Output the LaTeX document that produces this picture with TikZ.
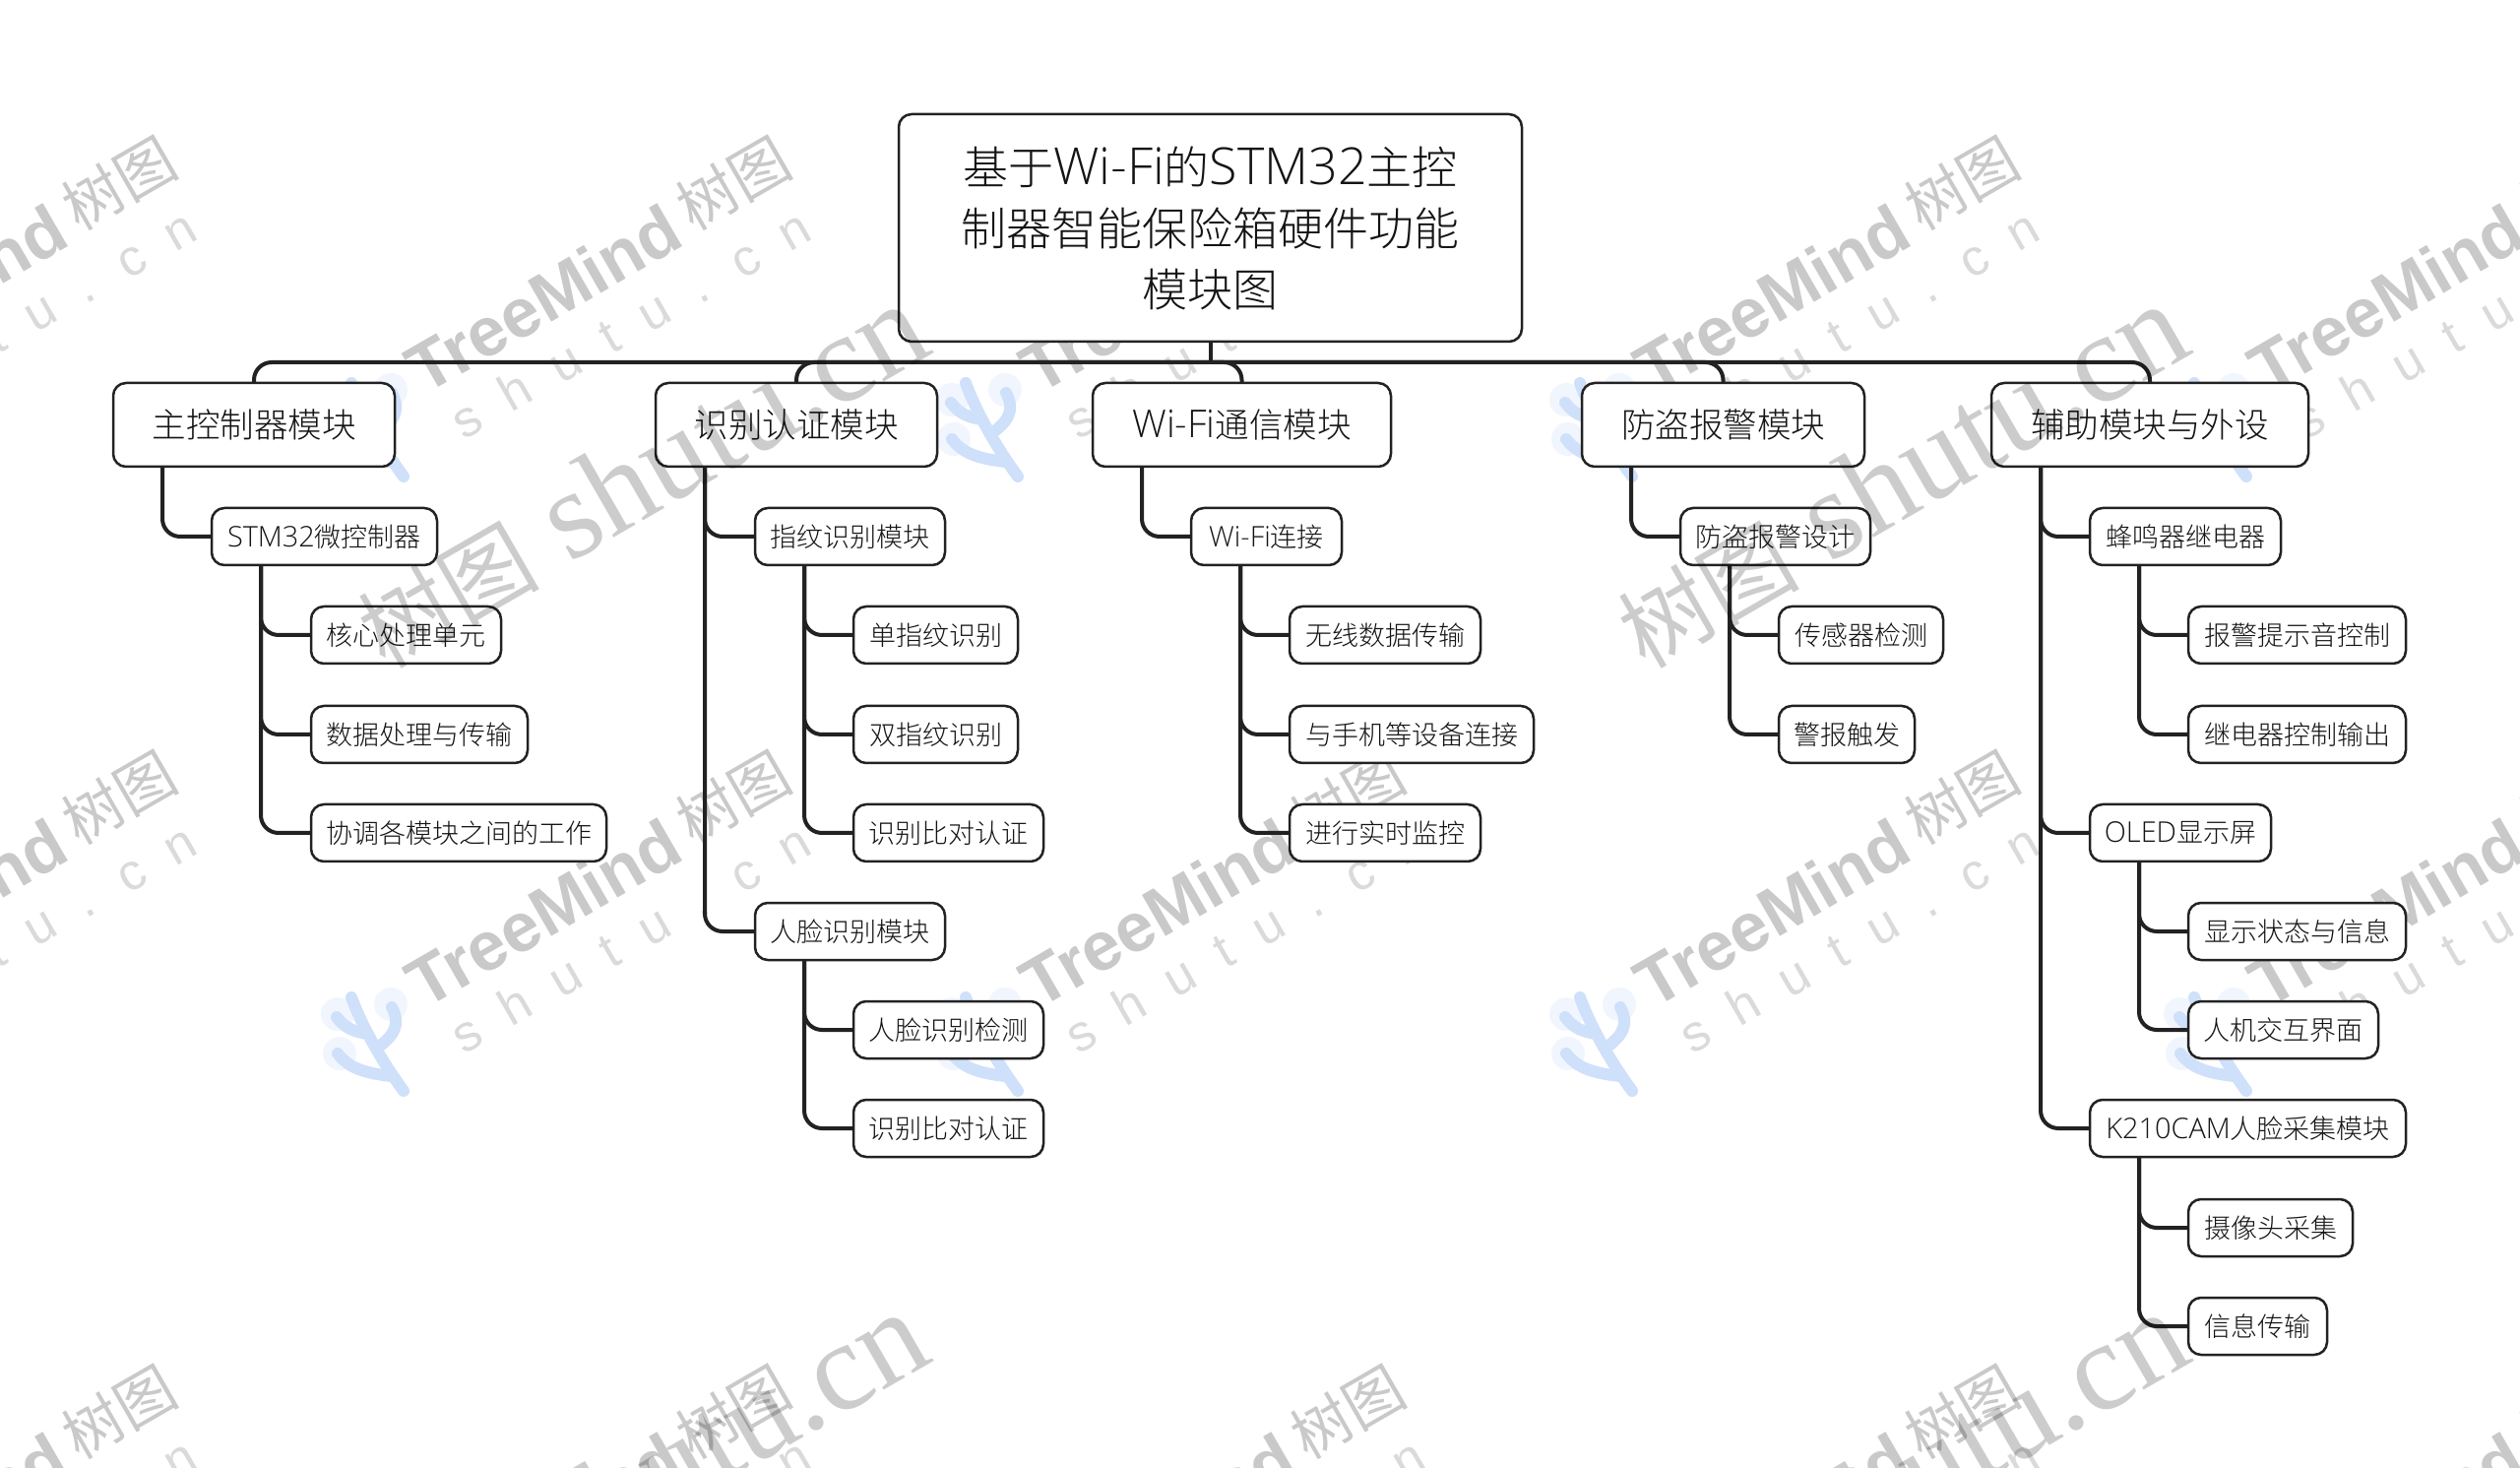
\documentclass[tikz,border=0pt]{standalone}
\usepackage{fontspec}
\setmainfont{Noto Sans CJK SC Light}
\newfontfamily\latf[Scale=1.07]{Open Sans Light}
\newfontfamily\latroot[Scale=1.13]{Open Sans Light}
\newfontfamily\cjkf{Noto Sans CJK SC}
\newfontfamily\wmsans{Liberation Sans}
\newfontfamily\wmserif{Liberation Serif}
\newcommand{\lat}[1]{{\latf #1}}
\newcommand{\latr}[1]{{\latroot #1}}
\definecolor{ink}{HTML}{222222}
\definecolor{wmgray}{HTML}{C9C9C9}
\definecolor{wmlight}{HTML}{DADADA}
\definecolor{cactus}{HTML}{CFE0FB}
\definecolor{halo}{HTML}{F1F6FE}
\tikzset{
  boxbase/.style={draw=ink,fill=white,line width=1.25pt,rounded corners=6.5pt,inner sep=0pt,outer sep=0pt,align=center,text=black!92},
  rootbox/.style={boxbase,font=\fontsize{23}{31}\selectfont},
  lone/.style={boxbase,minimum height=42.5pt,font=\fontsize{17.25}{20}\selectfont},
  ltwo/.style={boxbase,minimum height=29pt,font=\fontsize{13.5}{16}\selectfont},
  conn/.style={draw=ink,line width=2pt,rounded corners=9pt},
  wmtree/.style={anchor=base west,rotate=30,inner sep=0pt,text=wmgray},
  wmshu/.style={anchor=base west,rotate=30,inner sep=0pt,text=wmlight},
  wmbig/.style={anchor=base west,rotate=30,inner sep=0pt,text=black,text opacity=0.2},
  cact/.style={draw=cactus,line width=6pt,line cap=round,line join=round},
}
\newcommand{\bx}[6]{\node[#2,minimum width={(#4-#3)*0.5pt}] (#1) at ({(#3+#4)/2},#5) {#6};}
\newcommand{\link}[2]{\draw[conn] ([xshift=25pt]#1.south west) |- (#2.west);}
\newcommand{\drop}[1]{\draw[conn] (bus) -| (#1.north);}
\begin{document}
\begin{tikzpicture}[x=0.5pt,y=-0.5pt]
\useasboundingbox (0,0) rectangle (2560,1491);
\fill[white] (0,0) rectangle (2560,1491);
\begin{scope}
\clip (0,0) rectangle (2560,1491);
% tiled watermark behind the map
\foreach \tx in {-201,423,1047,1671,2295}{
 \foreach \ty in {394,1018,1642}{
  \begin{scope}[shift={(\tx,\ty)}]
   \fill[halo] (-80,12) circle (17*0.5pt) (-26,2) circle (17*0.5pt) (-78,52) circle (17*0.5pt);
   \draw[cact] (-66,-5) .. controls (-55,25) and (-35,60) .. (-13,90);
   \draw[cact] (-38,45) .. controls (-22,33) and (-16,22) .. (-25,5);
   \draw[cact] (-50,32) .. controls (-62,30) and (-72,27) .. (-81,15);
   \draw[cact] (-26,75) .. controls (-50,72) and (-68,68) .. (-80,52);
  \node[wmtree,font=\wmsans\bfseries\fontsize{35}{35}\selectfont] (tm\tx\ty) at (8,8) {TreeMind};
  \node[wmtree,font=\cjkf\fontsize{30}{30}\selectfont] (tc\tx\ty) at (281,-158) {树图};
  \node[wmshu,font=\wmsans\fontsize{26}{26}\selectfont] (ts\tx\ty) at (48,54) {\spaceskip=15pt s h u t u . c n};
  \end{scope}
 }
}
\end{scope}
% nodes
\node[rootbox,minimum width=316.5pt,minimum height=115.5pt] (root) at (1229.5,231.5) {基于\latr{Wi-Fi}的\latr{STM32}主控\\制器智能保险箱硬件功能\\模块图};
\coordinate (bus) at (1229.5,368);
\bx{a}{lone}{115}{401}{431.5}{主控制器模块}
\bx{b}{lone}{666}{952}{431.5}{识别认证模块}
\bx{c}{lone}{1110}{1413}{431.5}{\latr{Wi-Fi}通信模块}
\bx{d}{lone}{1607}{1894}{431.5}{防盗报警模块}
\bx{e}{lone}{2023}{2345}{431.5}{辅助模块与外设}
% level 2 and 3
\bx{a1}{ltwo}{215}{444}{545}{\lat{STM32}微控制器}
\bx{a11}{ltwo}{316}{509}{645}{核心处理单元}
\bx{a12}{ltwo}{316}{536}{746}{数据处理与传输}
\bx{a13}{ltwo}{316}{616}{846}{协调各模块之间的工作}
\bx{b1}{ltwo}{767}{960}{545}{指纹识别模块}
\bx{b11}{ltwo}{867}{1034}{645}{单指纹识别}
\bx{b12}{ltwo}{867}{1034}{746}{双指纹识别}
\bx{b13}{ltwo}{867}{1060}{846}{识别比对认证}
\bx{b2}{ltwo}{767}{960}{946}{人脸识别模块}
\bx{b21}{ltwo}{867}{1060}{1046}{人脸识别检测}
\bx{b22}{ltwo}{867}{1060}{1146}{识别比对认证}
\bx{c1}{ltwo}{1210}{1363}{545}{\lat{Wi-Fi}连接}
\bx{c11}{ltwo}{1310}{1504}{645}{无线数据传输}
\bx{c12}{ltwo}{1310}{1558}{746}{与手机等设备连接}
\bx{c13}{ltwo}{1310}{1504}{846}{进行实时监控}
\bx{d1}{ltwo}{1707}{1900}{545}{防盗报警设计}
\bx{d11}{ltwo}{1807}{1974}{645}{传感器检测}
\bx{d12}{ltwo}{1807}{1945}{746}{警报触发}
\bx{e1}{ltwo}{2123}{2317}{545}{蜂鸣器继电器}
\bx{e11}{ltwo}{2223}{2444}{645}{报警提示音控制}
\bx{e12}{ltwo}{2223}{2444}{746}{继电器控制输出}
\bx{e2}{ltwo}{2123}{2307}{846}{\lat{OLED}显示屏}
\bx{e21}{ltwo}{2223}{2444}{946}{显示状态与信息}
\bx{e22}{ltwo}{2223}{2416}{1046}{人机交互界面}
\bx{e3}{ltwo}{2123}{2444}{1146}{\lat{K210CAM}人脸采集模块}
\bx{e31}{ltwo}{2223}{2390}{1247}{摄像头采集}
\bx{e32}{ltwo}{2223}{2364}{1347}{信息传输}
% connectors
\draw[conn] (root.south) -- (bus);
\drop{a}\drop{b}\drop{c}\drop{d}\drop{e}
\link{a}{a1}\link{a1}{a11}\link{a1}{a12}\link{a1}{a13}
\link{b}{b1}\link{b}{b2}\link{b1}{b11}\link{b1}{b12}\link{b1}{b13}\link{b2}{b21}\link{b2}{b22}
\link{c}{c1}\link{c1}{c11}\link{c1}{c12}\link{c1}{c13}
\link{d}{d1}\link{d1}{d11}\link{d1}{d12}
\link{e}{e1}\link{e}{e2}\link{e}{e3}\link{e1}{e11}\link{e1}{e12}\link{e2}{e21}\link{e2}{e22}\link{e3}{e31}\link{e3}{e32}
% large watermark over the map
\begin{scope}
\clip (0,0) rectangle (2560,1491);
\foreach \bigx in {391,1671}{
 \foreach \bigy in {681,1705}{
  \node[wmbig,font=\wmserif\fontsize{64}{64}\selectfont] (wm\bigx\bigy) at (\bigx,\bigy) {{\cjkf\fontsize{46}{46}\selectfont 树图} shutu.cn};
 }
}
\end{scope}
\end{tikzpicture}
\end{document}
